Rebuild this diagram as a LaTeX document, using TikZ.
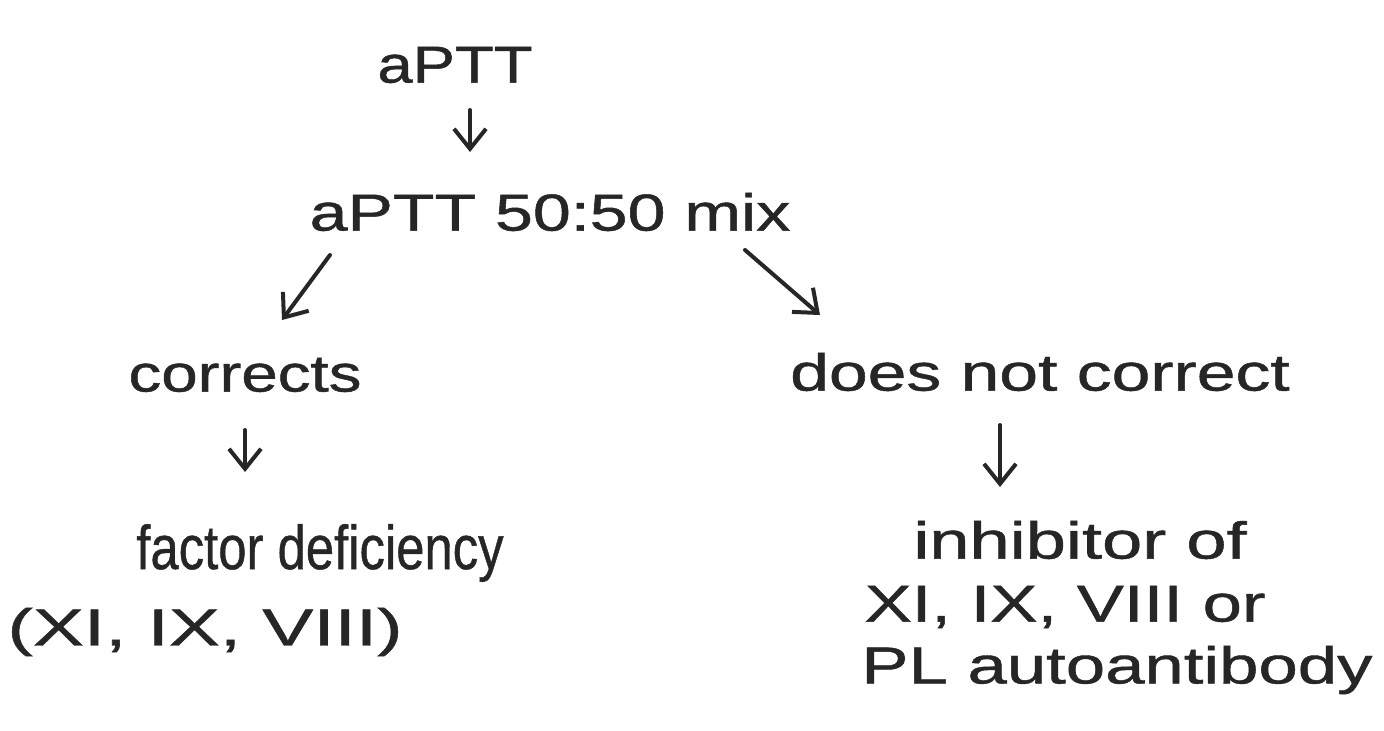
\documentclass[tikz,border=0pt]{standalone}
\usepackage{graphicx}
\usepackage{fontspec}
\setmainfont[FakeBold=0.8]{Liberation Sans}
\usetikzlibrary{arrows.meta}
\newcommand\hs[2]{\scalebox{#1}[1]{#2}}
\begin{document}
\begin{tikzpicture}[x=0.5pt,y=-0.5pt,
  lbl/.style={font=\fontsize{26}{28}\selectfont, text=black!85, inner sep=0pt},
  arr/.style={draw=black!85, line width=2pt, line cap=round, -{Straight Barb[length=10pt,width=16pt,line width=2pt]}}]
\useasboundingbox[fill=white] (0,0) rectangle (1384,731);
\node[lbl] (ptt) at (455,65) {\hs{1.22}{aPTT}};
\node[lbl] (mix) at (550,212) {\hs{1.31}{aPTT 50:50 mix}};
\node[lbl] (cor) at (245,375) {\hs{1.26}{corrects}};
\node[lbl] (nc) at (1040,372) {\hs{1.34}{does not correct}};
\node[lbl, font=\fontsize{31}{33}\selectfont] (fd) at (320,553) {\hs{0.82}{factor deficiency}};
\node[lbl] (fdl) at (205,632) {\hs{1.47}{(XI, IX, VIII)}};
\node[lbl] (inh) at (1080,540) {\hs{1.39}{inhibitor of}};
\node[lbl] (inh2) at (1065,607) {\hs{1.36}{XI, IX, VIII or}};
\node[lbl] (pl) at (1117,670) {\hs{1.36}{PL autoantibody}};
\coordinate (a1) at (470,110); \coordinate (a2) at (470,152);
\coordinate (b1) at (330,255); \coordinate (b2) at (282,320);
\coordinate (c1) at (745,250); \coordinate (c2) at (820,315);
\coordinate (d1) at (245,430); \coordinate (d2) at (245,472);
\coordinate (e1) at (1000,425); \coordinate (e2) at (1000,487);
\draw[arr] (a1) -- (a2);
\draw[arr] (b1) -- (b2);
\draw[arr] (c1) -- (c2);
\draw[arr] (d1) -- (d2);
\draw[arr] (e1) -- (e2);
\end{tikzpicture}
\end{document}
